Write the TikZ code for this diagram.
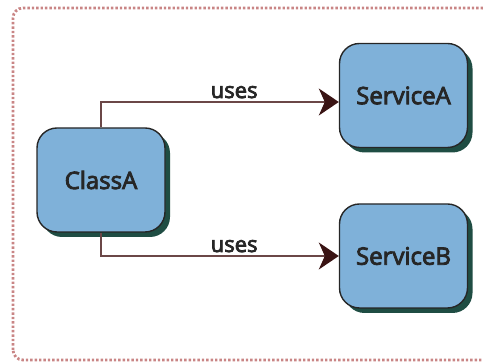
\documentclass[tikz,border=0pt]{standalone}
\usepackage{fontspec}
\setmainfont{Open Sans}[BoldFont={Open Sans}, BoldFeatures={FakeBold=3.5}]
\usepackage{tikz}
\usetikzlibrary{arrows.meta,shadows}

\definecolor{boxfill}{HTML}{7FB1D9}
\definecolor{boxshadow}{HTML}{1F4D43}
\definecolor{uselink}{HTML}{6B4747}
\definecolor{usetip}{HTML}{3A1414}
\definecolor{framedots}{HTML}{C98585}

\tikzset{
    classbox/.style={draw=black!85, line width=1.4pt, fill=boxfill, rounded corners=20pt,
        minimum width=128pt, minimum height=104pt, text=black!85, font=\fontsize{24}{29}\selectfont\bfseries,
        drop shadow={shadow xshift=5pt, shadow yshift=-5pt, fill=boxshadow, opacity=1}},
    useslink/.style={draw=uselink, line width=1.5pt,
        -{Stealth[length=20pt, width=27pt, inset=6pt, color=usetip]}},
    useslabel/.style={above, text=black!85, font=\fontsize{22}{27}\selectfont\bfseries, inner sep=3pt}
}

\begin{document}
\begin{tikzpicture}[x=1pt, y=1pt]
        \useasboundingbox (0, 0) rectangle (483, 363);
        \draw [framedots, line width=2.8pt, dash pattern=on 2.4pt off 2pt, rounded corners=10pt]
            (13, 3) rectangle (492, 355); % outer frame

        \node [classbox] (classA) at (101, 183) {ClassA};
        \node [classbox] (serviceA) at (403.5, 267.5) {ServiceA};
        \node [classbox] (serviceB) at (403.5, 107) {ServiceB};

        \draw [useslink] (classA.north) |- ([yshift=-6.5pt]serviceA.west)
            node [useslabel, pos=0.78] {uses};
        \draw [useslink] (classA.south) |- (serviceB.west)
            node [useslabel, pos=0.78] {uses};
    \end{tikzpicture}
\end{document}
